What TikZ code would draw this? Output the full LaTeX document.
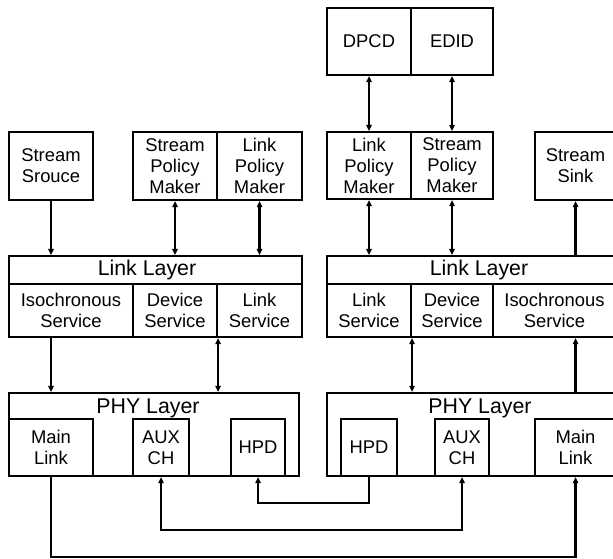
\documentclass[tikz,border=0pt]{standalone}
\usepackage{fontspec}
\setmainfont{Liberation Sans}
\usetikzlibrary{arrows.meta}

\tikzset{
  box/.style={draw, line width=1.6pt, inner sep=0pt, align=center,
    font=\fontsize{13.8}{15.8}\selectfont},
  title/.style={inner sep=0pt, anchor=base, font=\fontsize{16}{19}\selectfont},
  wire/.style={line width=1.6pt},
}

% box from corner (x1,y1) to corner (x2,y2) with a name and a text
\newcommand\bx[6]{\node[box,
  minimum width={(#4-#2)*0.75pt}, minimum height={(#5-#3)*0.75pt}]
  (#1) at ({(#2+#4)/2},{(#3+#5)/2}) {#6};}

\begin{document}
\begin{tikzpicture}[x=0.75pt, y=-0.75pt,
  >={Triangle[length=4.5pt,width=4pt]}]
\useasboundingbox (0,0) rectangle (613,558);
\clip (0,0) rectangle (613,558);

% ---- source side ----
\bx{src}{9}{132}{93}{200}{Stream\\Srouce}
\bx{spmL}{133}{132}{217}{200}{Stream\\Policy\\Maker}
\bx{lpmL}{217}{132}{302}{200}{Link\\Policy\\Maker}

\bx{linkL}{9}{256}{302}{284}{}
\node[title] (linkLt) at (147,275) {Link Layer};
\bx{isoL}{9}{284}{133}{337}{Isochronous\\Service}
\bx{devL}{133}{284}{217}{337}{Device\\Service}
\bx{lsL}{217}{284}{302}{337}{Link\\Service}

\bx{phyL}{9}{393}{299}{476}{}
\node[title] (phyLt) at (148,413) {PHY Layer};
\bx{mainL}{9}{419}{93}{476}{Main\\Link}
\bx{auxL}{133}{419}{189}{476}{AUX\\CH}
\bx{hpdL}{231}{419}{285}{476}{HPD}

% ---- sink side ----
\bx{dpcd}{327}{8}{411}{75}{DPCD}
\bx{edid}{411}{8}{493}{75}{EDID}
\bx{lpmR}{327}{132}{411}{199}{Link\\Policy\\Maker}
\bx{spmR}{411}{132}{493}{199}{Stream\\Policy\\Maker}
\bx{sink}{535}{132}{616}{200}{Stream\\Sink}

\bx{linkR}{327}{256}{616}{284}{}
\node[title] (linkRt) at (479,275) {Link Layer};
\bx{lsR}{327}{284}{411}{337}{Link\\Service}
\bx{devR}{411}{284}{493}{337}{Device\\Service}
\bx{isoR}{493}{284}{616}{337}{Isochronous\\Service}

\bx{phyR}{327}{393}{616}{476}{}
\node[title] (phyRt) at (480,413) {PHY Layer};
\bx{hpdR}{341}{419}{397}{476}{HPD}
\bx{auxR}{435}{419}{489}{476}{AUX\\CH}
\bx{mainR}{535}{419}{616}{476}{Main\\Link}

% levels of the cable runs
\coordinate (yH) at (0,503);
\coordinate (yA) at (0,530);
\coordinate (yM) at (0,557);

% ---- source side connectors ----
\draw[wire,->] (src.south) -- (src.south |- linkL.north);
\draw[wire,<->] (spmL.south) -- (spmL.south |- linkL.north);
\draw[wire,<->] (lpmL.south) -- (lpmL.south |- linkL.north);
\draw[wire,->] (isoL.south -| mainL.south) -- (mainL.south |- phyL.north);
\draw[wire,<->] (devL.south east) -- (devL.south east |- phyL.north);

% ---- sink side connectors ----
\draw[wire,<->] (dpcd.south) -- (lpmR.north);
\draw[wire,<->] (edid.south) -- (spmR.north);
\draw[wire,<->] (lpmR.south) -- (lpmR.south |- linkR.north);
\draw[wire,<->] (spmR.south) -- (spmR.south |- linkR.north);
\draw[wire,->] (sink.south |- linkR.north) -- (sink.south);
\draw[wire,<->] (lsR.south east) -- (lsR.south east |- phyR.north);
\draw[wire,->] (mainR.north |- phyR.north) -- (mainR.north |- isoR.south);

% ---- cables between the two PHY layers ----
\draw[wire,->] (hpdR.south) -- (hpdR.south |- yH) -| (hpdL.south);
\draw[wire,<->] (auxL.south) -- (auxL.south |- yA) -| (auxR.south);
\draw[wire,->] (mainL.south) -- (mainL.south |- yM) -| (mainR.south);
\end{tikzpicture}
\end{document}
